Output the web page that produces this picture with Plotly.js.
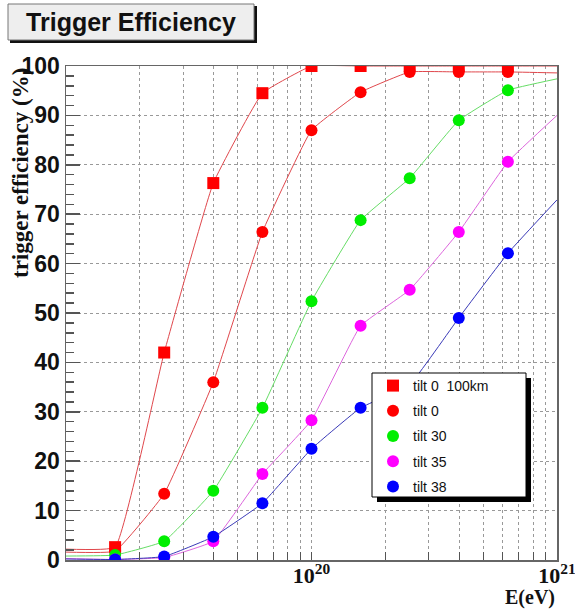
<!DOCTYPE html>
<html>
<head>
<meta charset="utf-8">
<script src="https://cdn.plot.ly/plotly-3.0.1.min.js"></script>
<style>html,body{margin:0;padding:0;background:#fff;}#chart{width:575px;height:610px;}</style>
</head>
<body>
<div id="chart"></div>
<script>
// Energies (eV): curve ends at the frame edges, markers at the inner points
const energy = [1e19, 1.585e19, 2.512e19, 3.981e19, 6.310e19, 1e20, 1.585e20, 2.512e20, 3.981e20, 6.310e20, 1e21];
const markerEnergy = [1.585e19, 2.512e19, 3.981e19, 6.310e19, 1e20, 1.585e20, 2.512e20, 3.981e20, 6.310e20];

const seriesNames = ['tilt 0  100km', 'tilt 0', 'tilt 30', 'tilt 35', 'tilt 38'];
const tilt0_100km = [2.2, 2.6, 42, 76.3, 94.5, 100, 100, 100, 100, 100, 100];
const tilt0       = [1.6, 1.8, 13.4, 36, 66.4, 87, 94.7, 98.8, 98.8, 98.8, 98.6];
const tilt30      = [0.8, 1.0, 3.8, 14, 30.8, 52.4, 68.8, 77.3, 89, 95.1, 97.4];
const tilt35      = [0.3, 0.1, 0.5, 3.8, 17.4, 28.3, 47.4, 54.7, 66.4, 80.6, 90];
const tilt38      = [0.2, 0.1, 0.7, 4.7, 11.5, 22.5, 30.8, 35.5, 49, 62.1, 72.9];

const xTickVals = [2e19,3e19,4e19,5e19,6e19,7e19,8e19,9e19,1e20,2e20,3e20,4e20,5e20,6e20,7e20,8e20,9e20,1e21];
const xTickText = ['','','','','','','','','10<sup>20</sup>','','','','','','','','','10<sup>21</sup>'];
const yTickVals = [0,10,20,30,40,50,60,70,80,90,100];

const allSeries = [tilt0_100km, tilt0, tilt30, tilt35, tilt38];
const markerColors = ['#ff0000', '#ff0000', '#00ee00', '#ff00ff', '#0000ff'];
const lineColors = ['#e0474c', '#e0474c', '#66dd66', '#dd66dd', '#3a3ab8'];
const symbols = ['square', 'circle', 'circle', 'circle', 'circle'];

const traces = [];
allSeries.forEach((vals, i) => {
  traces.push({
    x: energy, y: vals, type: 'scatter', mode: 'lines',
    line: {color: lineColors[i], width: 1, shape: 'spline', smoothing: 0.3},
    showlegend: false, hoverinfo: 'skip'
  });
});
allSeries.forEach((vals, i) => {
  traces.push({
    x: markerEnergy, y: vals.slice(1, vals.length - 1), type: 'scatter', mode: 'markers',
    name: seriesNames[i], legendgroup: 'g' + i,
    marker: {color: markerColors[i], size: 12, symbol: symbols[i], line: {width: 0}}
  });
});

// pixel -> paper helpers for decorations
const L = 66, R = 18, T = 66, B = 50, W = 575, H = 610;
const pw = W - L - R, ph = H - T - B;
const px = v => (v - L) / pw;
const py = v => (H - B - v) / ph;

const shapes = [
  // title box shadow & box
  {type: 'rect', xref: 'paper', yref: 'paper', x0: px(10), x1: px(257), y0: py(43), y1: py(6), fillcolor: '#111', line: {width: 0}},
  {type: 'rect', xref: 'paper', yref: 'paper', x0: px(8), x1: px(254), y0: py(40), y1: py(4), fillcolor: '#eeeeee', line: {color: '#777', width: 1}},
  // legend shadow & box
  {type: 'rect', xref: 'paper', yref: 'paper', layer: 'above', x0: px(377), x1: px(531), y0: py(502), y1: py(378), fillcolor: '#000', line: {width: 0}},
  {type: 'rect', xref: 'paper', yref: 'paper', layer: 'above', x0: px(372), x1: px(526), y0: py(497), y1: py(373), fillcolor: '#fff', line: {color: '#000', width: 1}}
];

const layout = {
  width: W, height: H,
  margin: {l: L, r: R, t: T, b: B, pad: 0},
  paper_bgcolor: '#fff', plot_bgcolor: '#fff',
  title: {text: 'Trigger Efficiency', x: 131 / W, xanchor: 'center', y: 1 - 22 / H, yanchor: 'middle',
          font: {family: 'Liberation Sans, Arial, sans-serif', size: 25, weight: 'bold', color: '#111'}},
  xaxis: {
    type: 'log', range: [19, 21.00002],
    tickmode: 'array', tickvals: xTickVals, ticktext: xTickText,
    ticklabeloverflow: 'allow', ticklabelstandoff: -5,
    ticks: 'inside', ticklen: 8, tickcolor: '#555', tickwidth: 1,
    showgrid: true, gridcolor: '#999', griddash: 'dot', gridwidth: 1,
    showline: true, linecolor: '#666', linewidth: 1.5, mirror: true,
    zeroline: false,
    tickfont: {family: 'Liberation Serif, Times New Roman, serif', size: 22, weight: 'bold', color: '#111'}
  },
  yaxis: {
    range: [0, 100], tickmode: 'array', tickvals: yTickVals,
    ticks: 'inside', ticklen: 14, tickcolor: '#555', tickwidth: 1.5,
    minor: {dtick: 2, ticks: 'inside', ticklen: 8, tickcolor: '#555', showgrid: false},
    showgrid: true, gridcolor: '#999', griddash: 'dot', gridwidth: 1,
    showline: true, linecolor: '#666', linewidth: 1.5, mirror: true,
    zeroline: false,
    tickfont: {family: 'Liberation Sans Narrow, Arial Narrow, Liberation Sans, Arial, sans-serif', size: 23, weight: 'bold', color: '#111'}
  },
  legend: {
    x: px(373), y: py(370), xanchor: 'left', yanchor: 'top',
    bgcolor: 'rgba(0,0,0,0)', borderwidth: 0,
    traceorder: 'grouped', tracegroupgap: 4,
    font: {family: 'Liberation Sans, Arial, sans-serif', size: 14, color: '#111'}
  },
  shapes: shapes,
  annotations: [
    {text: 'trigger efficiency (%)', xref: 'paper', yref: 'paper', x: px(20), y: py(66),
     xanchor: 'center', yanchor: 'top', textangle: -90, showarrow: false,
     font: {family: 'Liberation Serif, Times New Roman, serif', size: 23, weight: 'bold', color: '#111'}},
    {text: 'E(eV)', xref: 'paper', yref: 'paper', x: px(557), y: py(597),
     xanchor: 'right', yanchor: 'middle', showarrow: false,
     font: {family: 'Liberation Serif, Times New Roman, serif', size: 20, weight: 'bold', color: '#111'}}
  ],
  showlegend: true
};

Plotly.newPlot('chart', traces, layout, {displayModeBar: false, staticPlot: true});
</script>
</body>
</html>
